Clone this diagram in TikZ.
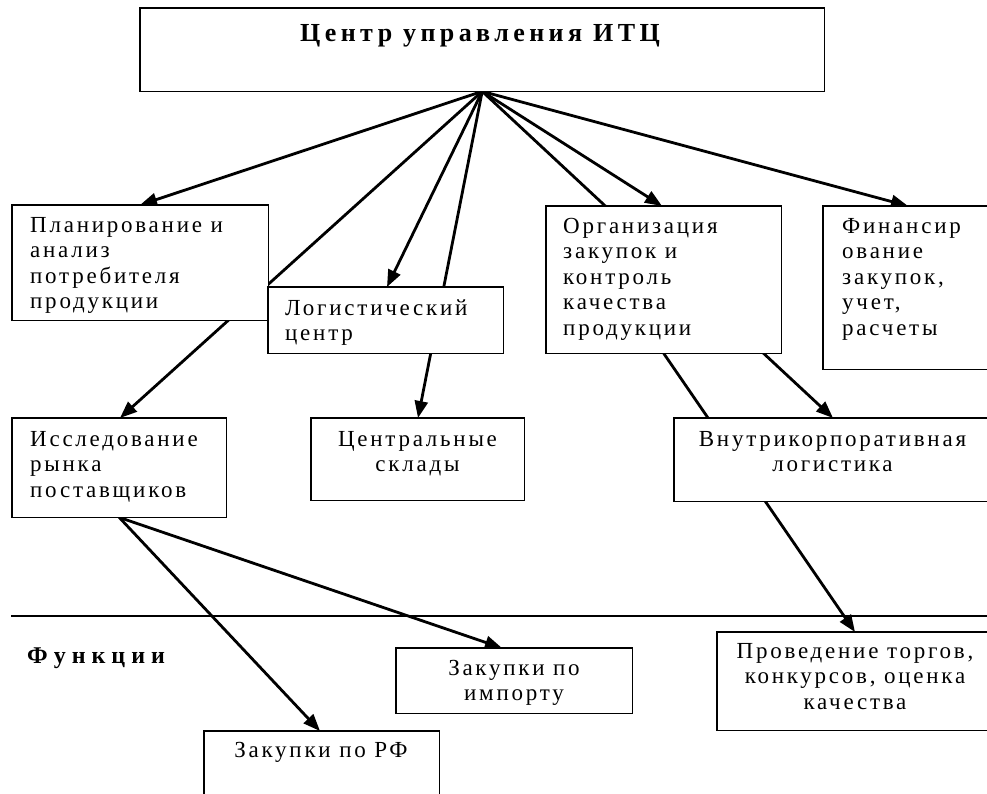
\documentclass[tikz,border=0pt]{standalone}
\usepackage{fontspec}
\setmainfont{Liberation Serif}
\newfontfamily\bodyfont[LetterSpace=12]{Liberation Serif}
\newfontfamily\headfont[LetterSpace=17]{Liberation Serif}
\newfontfamily\funcfont[LetterSpace=25]{Liberation Serif}
\usetikzlibrary{arrows.meta}
\begin{document}
\begin{tikzpicture}[x=1pt,y=-1pt,
  box/.style={draw=none, fill=none, anchor=north west, inner sep=0pt},
  conn/.style={line width=2.8pt, -{Triangle[length=17pt,width=13pt]}},
  txt/.style={inner sep=0pt, font=\bodyfont\fontsize{23}{25.5}\selectfont},
  head/.style={inner sep=0pt, font=\headfont\bfseries\fontsize{26}{30}\selectfont},
  funchead/.style={inner sep=0pt, font=\funcfont\bfseries\fontsize{24}{28}\selectfont}]
\useasboundingbox (0,0) rectangle (987,794);
\clip (0,0) rectangle (987,794);
% boxes (positions)
\path
  node[box, minimum width=684pt, minimum height=83pt] (top) at (140,8) {}
  node[box, minimum width=256pt, minimum height=115pt] (plan) at (12,205) {}
  node[box, minimum width=235pt, minimum height=66pt] (log) at (268,287) {}
  node[box, minimum width=235pt, minimum height=147pt] (org) at (546,206) {}
  node[box, minimum width=180pt, minimum height=163pt] (fin) at (823,206) {}
  node[box, minimum width=214pt, minimum height=99pt] (issl) at (12,418) {}
  node[box, minimum width=213pt, minimum height=82pt] (centr) at (311,418) {}
  node[box, minimum width=318pt, minimum height=83pt] (vnutr) at (674,418) {}
  node[box, minimum width=236pt, minimum height=65pt] (imp) at (396,648) {}
  node[box, minimum width=276pt, minimum height=98pt] (prov) at (717,632) {}
  node[box, minimum width=235pt, minimum height=90pt] (rf) at (204,731) {};
% connectors (drawn first, boxes cover them)
\draw[conn] (top.south) -- (140,0 |- plan.north);
\draw[conn] (top.south) -- (120,0 |- issl.north);
\draw[conn] (top.south) -- (387,0 |- log.north);
\draw[conn] (top.south) -- (418,0 |- centr.north);
\draw[conn] (top.south) -- (833,0 |- vnutr.north);
\draw[conn] (top.south) -- (662,0 |- org.north);
\draw[conn] (top.south) -- (908,0 |- fin.north);
\draw[conn] (org.south) -- (855,0 |- prov.north);
\draw[conn] (issl.south) -- (320,0 |- rf.north);
\draw[conn] (issl.south) -- (502,0 |- imp.north);
% separator
\coordinate (sepL) at (11,616);
\coordinate (sepR) at (990,616);
\draw[line width=1.2pt] (sepL) -- (sepR);
% boxes drawn over the lines
\foreach \b in {top,plan,log,org,fin,issl,centr,vnutr,imp,prov,rf}
  {\draw[line width=1.6pt, fill=white] (\b.north west) rectangle (\b.south east);}
% texts (base anchor = baseline of the last line)
\node[head, anchor=base] (ttop) at (480,42) {Центр управления ИТЦ};
\node[txt, anchor=base west, align=left] (tplan) at (30,308.8) {Планирование и\\анализ\\потребителя\\продукции};
\node[txt, anchor=base west, align=left] (tlog) at (285,340.5) {Логистический\\центр};
\node[txt, anchor=base west, align=left] (torg) at (563,335) {Организация\\закупок и\\контроль\\качества\\продукции};
\node[txt, anchor=base west, align=left] (tfin) at (842,335) {Финансир\\ование\\закупок,\\учет,\\расчеты};
\node[txt, anchor=base west, align=left] (tissl) at (30,497) {Исследование\\рынка\\поставщиков};
\node[txt, anchor=base, align=center] (tcentr) at (417.5,471.5) {Центральные\\склады};
\node[txt, anchor=base, align=center] (tvnutr) at (832.5,471.5) {Внутрикорпоративная\\логистика};
\node[funchead, anchor=base west] (tfunk) at (27,663) {Функции};
\node[txt, anchor=base, align=center] (timp) at (514,700.5) {Закупки по\\импорту};
\node[txt, anchor=base, align=center] (tprov) at (855,709) {Проведение торгов,\\конкурсов, оценка\\качества};
\node[txt, anchor=base] (trf) at (321,757) {Закупки по РФ};
\end{tikzpicture}
\end{document}
